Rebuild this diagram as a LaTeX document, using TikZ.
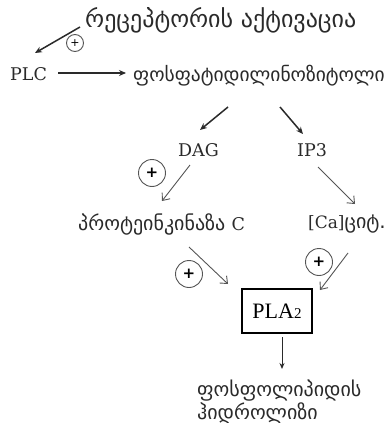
\documentclass[tikz,border=0pt]{standalone}
\usepackage{fontspec}
\setmainfont{DejaVu Serif}
\newfontfamily\geo{DejaVu Sans}
\newfontfamily\tms{Liberation Serif}
\usetikzlibrary{arrows.meta}
\definecolor{ink}{HTML}{2A2A2A}
\definecolor{lgray}{HTML}{555555}
\begin{document}
\begin{tikzpicture}[x=1pt,y=-1pt,
  txt/.style={inner sep=0pt,anchor=west,text=ink},
  geobig/.style={txt,font=\geo\fontsize{24}{26}\selectfont},
  geomid/.style={txt,font=\geo\fontsize{19.5}{22}\selectfont},
  geolow/.style={txt,font=\geo\fontsize{20}{21}\selectfont},
  lat/.style={txt,font=\rmfamily\fontsize{17.5}{20}\selectfont},
  plus/.style={draw=lgray,circle,line width=0.9pt,inner sep=0pt,minimum size=#1,font=\geo\bfseries\fontsize{15}{15}\selectfont},
  plus/.default=27pt,
  solidarr/.style={draw=ink,line width=1.5pt,-{Stealth[length=7pt,width=6pt]}},
  openarr/.style={draw=lgray,line width=0.9pt,-{Straight Barb[length=6pt,width=10pt]}},
]
\path[use as bounding box,fill=white] (0,0) rectangle (387,423);

\node[geobig] (title) at (85,20) {რეცეპტორის აქტივაცია};
\node[lat] (plc) at (10,74) {PLC};
\node[geomid] (pi) at (133,76) {ფოსფატიდილინოზიტოლი};
\node[lat] (dag) at (178,150) {DAG};
\node[lat] (ip3) at (297,150) {IP3};
\node[geolow] (pkc) at (78,224) {პროტეინკინაზა {\rmfamily\fontsize{17.5}{20}\selectfont C}};
\node[geolow] (ca) at (308,224) {{\rmfamily\fontsize{17}{18}\selectfont [Ca]}ციტ.};
\node[draw=black,line width=2.4pt,minimum width=70pt,minimum height=44pt,inner sep=0pt,font=\tms\fontsize{22}{24}\selectfont] (pla) at (277,311) {PLA{\fontsize{15}{15}\selectfont 2}};
\node[geolow,align=left] (hyd) at (197,402) {ფოსფოლიპიდის\\ჰიდროლიზი};

\node[plus=17pt,font=\geo\fontsize{11}{11}\selectfont] (p0) at (75,43) {+};
\node[plus] (p1) at (152,173) {+};
\node[plus] (p2) at (189,274) {+};
\node[plus] (p3) at (319,262) {+};

\coordinate (a0s) at (80,27);  \coordinate (a0e) at (35,53);
\coordinate (a1s) at (58,73);  \coordinate (a1e) at (126,73);
\coordinate (a2s) at (228,107);\coordinate (a2e) at (200,130);
\coordinate (a3s) at (280,107);\coordinate (a3e) at (303,134);
\coordinate (a4s) at (190,165);\coordinate (a4e) at (162,201);
\coordinate (a5s) at (318,167);\coordinate (a5e) at (355,204);
\coordinate (a6s) at (189,247);\coordinate (a6e) at (228,284);
\coordinate (a7s) at (348,253);\coordinate (a7e) at (320,290);
\coordinate (a8s) at (282,337);\coordinate (a8e) at (282,369);

\draw[solidarr] (a0s) -- (a0e);
\draw[solidarr] (a1s) -- (a1e);
\draw[solidarr] (a2s) -- (a2e);
\draw[solidarr] (a3s) -- (a3e);
\draw[openarr] (a4s) -- (a4e);
\draw[openarr] (a5s) -- (a5e);
\draw[openarr] (a6s) -- (a6e);
\draw[openarr] (a7s) -- (a7e);
\draw[draw=ink,line width=1pt,-{Stealth[length=6pt,width=5pt]}] (a8s) -- (a8e);
\end{tikzpicture}
\end{document}
